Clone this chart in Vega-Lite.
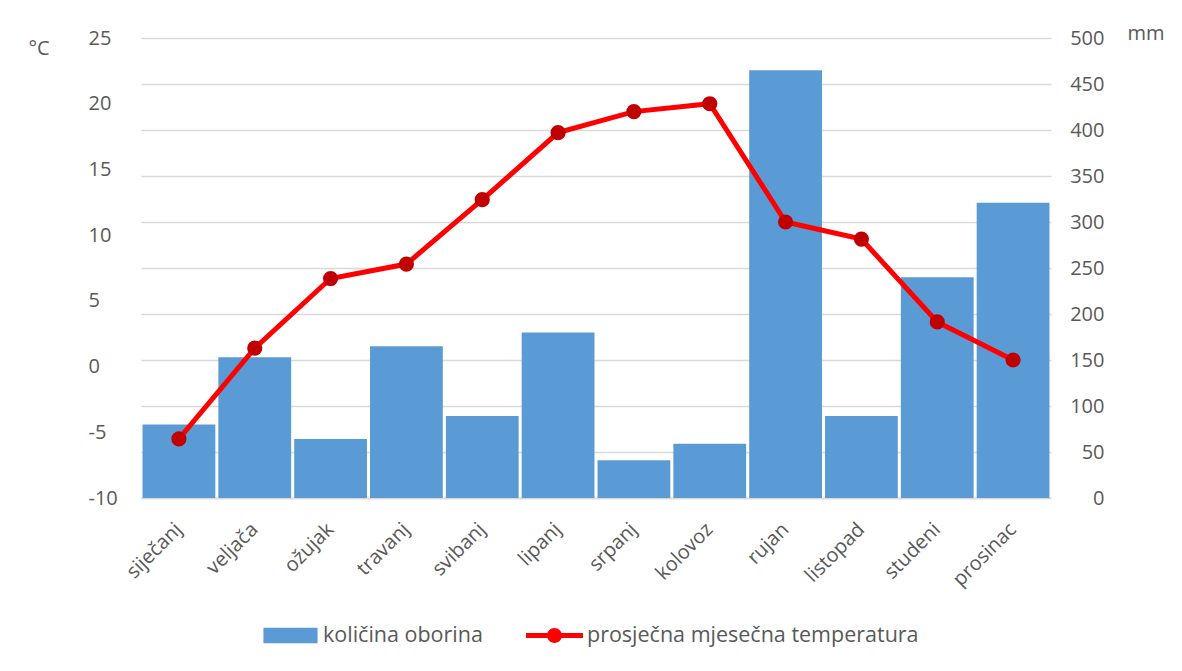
{
  "$schema": "https://vega.github.io/schema/vega-lite/v6.json",
  "width": 910,
  "height": 460,
  "autosize": {"type": "none"},
  "padding": {"left": 141, "top": 38, "right": 131, "bottom": 173},
  "background": "white",
  "config": {
    "font": "Open Sans",
    "view": {"stroke": null},
    "axis": {"labelColor": "#595959", "labelFontSize": 20, "titleColor": "#595959", "titleFontSize": 20, "titleFontWeight": "normal"},
    "legend": {"labelColor": "#595959", "labelFontSize": 21.5, "labelLimit": 0}
  },
  "data": {
    "values": [
      {"mjesec": "siječanj", "oborina": 80, "temp": -5.5},
      {"mjesec": "veljača", "oborina": 153, "temp": 1.4},
      {"mjesec": "ožujak", "oborina": 64, "temp": 6.7},
      {"mjesec": "travanj", "oborina": 165, "temp": 7.8},
      {"mjesec": "svibanj", "oborina": 89, "temp": 12.7},
      {"mjesec": "lipanj", "oborina": 180, "temp": 17.8},
      {"mjesec": "srpanj", "oborina": 41, "temp": 19.4},
      {"mjesec": "kolovoz", "oborina": 59, "temp": 20.0},
      {"mjesec": "rujan", "oborina": 465, "temp": 11.0},
      {"mjesec": "listopad", "oborina": 89, "temp": 9.7},
      {"mjesec": "studeni", "oborina": 240, "temp": 3.4},
      {"mjesec": "prosinac", "oborina": 321, "temp": 0.5}
    ]
  },
  "encoding": {
    "x": {
      "field": "mjesec",
      "type": "nominal",
      "sort": null,
      "scale": {"paddingInner": 0.04, "paddingOuter": 0.02},
      "axis": {
        "title": null,
        "labelAngle": -45,
        "labelAlign": "right",
        "labelBaseline": "middle",
        "labelPadding": 28,
        "ticks": false,
        "domain": true,
        "domainColor": "#D9D9D9",
        "domainWidth": 1.5
      }
    }
  },
  "layer": [
    {
      "mark": {"type": "bar", "color": "#5B9BD5"},
      "encoding": {
        "y": {
          "field": "oborina",
          "type": "quantitative",
          "scale": {"domain": [0, 500], "nice": false},
          "axis": {
            "orient": "right",
            "values": [0, 50, 100, 150, 200, 250, 300, 350, 400, 450, 500],
            "grid": true,
            "gridColor": "#D9D9D9",
            "gridWidth": 1.5,
            "domain": false,
            "ticks": false,
            "tickSize": 0,
            "labelAlign": "right",
            "labelPadding": 53,
            "title": "mm",
            "titleAngle": 0,
            "titleAlign": "left",
            "titleBaseline": "alphabetic",
            "titleX": 76,
            "titleY": 1
          }
        },
        "color": {
          "datum": "količina oborina",
          "type": "nominal",
          "scale": {
            "domain": ["količina oborina", "prosječna mjesečna temperatura"],
            "range": ["#5B9BD5", "#FF0000"]
          },
          "legend": {
            "title": null,
            "orient": "none",
            "direction": "horizontal",
            "legendX": 121,
            "legendY": 569,
            "padding": 0,
            "symbolSize": 3249,
            "labelOffset": 4,
            "columnPadding": 43,
            "encode": {
              "symbols": {
                "update": {
                  "shape": {"signal": "datum.value === 'količina oborina' ? 'M-0.95,-0.27H0.95V0.27H-0.95Z' : 'M-1,-0.09H1V0.09H-1Z M0.26,0 A0.26,0.26 0 1,1 -0.26,0 A0.26,0.26 0 1,1 0.26,0 Z'"},
                  "fill": {"signal": "datum.value === 'količina oborina' ? '#5B9BD5' : '#E00000'"},
                  "stroke": {"value": "transparent"},
                  "strokeWidth": {"value": 0},
                  "opacity": {"value": 1}
                }
              }
            }
          }
        }
      }
    },
    {
      "layer": [
        {
          "mark": {"type": "line", "strokeWidth": 5},
          "encoding": {
            "y": {
              "field": "temp",
              "type": "quantitative",
              "scale": {"domain": [-10, 25], "nice": false},
              "axis": {
                "orient": "left",
                "values": [-10, -5, 0, 5, 10, 15, 20, 25],
                "labelExpr": "'' + datum.value",
                "grid": false,
                "domain": false,
                "ticks": false,
                "tickSize": 0,
                "labelAlign": "left",
                "labelPadding": 53,
                "title": "°C",
                "titleAngle": 0,
                "titleAlign": "left",
                "titleBaseline": "alphabetic",
                "titleX": -113,
                "titleY": 16
              }
            },
            "color": {"datum": "prosječna mjesečna temperatura", "type": "nominal"}
          }
        },
        {
          "mark": {"type": "point", "filled": true, "size": 230, "color": "#C00000", "opacity": 1},
          "encoding": {
            "y": {"field": "temp", "type": "quantitative"}
          }
        }
      ]
    }
  ],
  "resolve": {"scale": {"y": "independent"}}
}
